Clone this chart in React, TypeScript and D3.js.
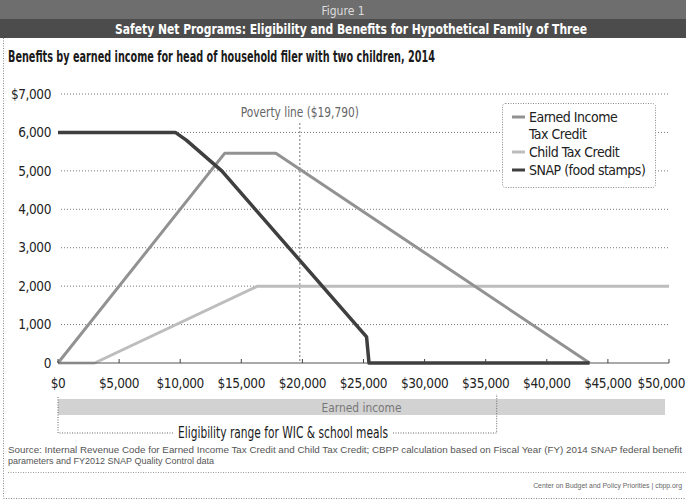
import React from "react";
import * as d3 from "d3";

// ---- data ----
const xTicks = [0, 5000, 10000, 15000, 20000, 25000, 30000, 35000, 40000, 45000, 50000];
const xTickLabels = ["$0", "$5,000", "$10,000", "$15,000", "$20,000", "$25,000", "$30,000", "$35,000", "$40,000", "$45,000", "$50,000"];
const yTicks = [0, 1000, 2000, 3000, 4000, 5000, 6000, 7000];
const yTickLabels = ["0", "1,000", "2,000", "3,000", "4,000", "5,000", "6,000", "$7,000"];

const eitcIncome = [0, 13650, 17830, 43500];
const eitcBenefit = [0, 5460, 5460, 0];

const ctcIncome = [0, 3000, 16330, 50000];
const ctcBenefit = [0, 0, 2000, 2000];

const snapIncome = [0, 9600, 10500, 13400, 25250, 25450, 43500];
const snapBenefit = [6000, 6000, 5800, 5000, 680, 0, 0];

const povertyLine = 19790;
const eligibilityLimit = 35900;

const seriesNames = ["Earned Income", "Tax Credit", "Child Tax Credit", "SNAP (food stamps)"];

const FONT = "'DejaVu Sans Condensed', 'Liberation Sans Narrow', 'Arial Narrow', sans-serif";
const SMALL = "'Liberation Sans', Arial, sans-serif";

const zip = (xs: number[], ys: number[]) => xs.map((x, i) => [x, ys[i]] as [number, number]);

export default function App() {
  const W = 686, H = 502;
  const x = d3.scaleLinear().domain([0, 50000]).range([58, 669]);
  const y = d3.scaleLinear().domain([0, 7000]).range([363, 94]);
  const line = d3.line<[number, number]>().x(d => x(d[0])).y(d => y(d[1]));

  const eitcColor = "#929292";
  const ctcColor = "#bdbdbd";
  const snapColor = "#3f3f3f";
  const tickStyle = { letterSpacing: "-0.4px" };

  return (
    <div style={{ position: "absolute", left: 0, top: 0 }}>
      <svg width={W} height={H} style={{ display: "block", background: "#fff" }}>
        {/* header */}
        <rect x={0} y={0} width={W} height={19} fill="#6e6e6e" />
        <rect x={0} y={19} width={W} height={19} fill="#4c4c4c" />
        <text x={343} y={15} textAnchor="middle" fill="#dcdcdc" fontFamily={FONT} fontSize={12}>Figure 1</text>
        <text x={351} y={34} textAnchor="middle" fill="#fff" fontFamily={FONT} fontSize={14.5} fontWeight="bold"
          textLength={472} lengthAdjust="spacingAndGlyphs">
          Safety Net Programs: Eligibility and Benefits for Hypothetical Family of Three
        </text>

        {/* frame */}
        <line x1={3.5} x2={3.5} y1={38} y2={498} stroke="#888" strokeDasharray="1,1.5" />
        <line x1={3.5} x2={W} y1={498.5} y2={498.5} stroke="#888" strokeDasharray="1,1.5" />

        {/* subtitle */}
        <text x={8} y={62} fill="#1a1a1a" fontFamily={FONT} fontSize={15} fontWeight={600}
          textLength={427} lengthAdjust="spacingAndGlyphs">
          Benefits by earned income for head of household filer with two children, 2014
        </text>

        {/* gridlines */}
        {yTicks.filter(v => v > 0).map(v => (
          <line key={v} x1={x(0) + 3} x2={x(50000)} y1={y(v)} y2={y(v)} stroke="#777" strokeDasharray="1,2" />
        ))}

        {/* y labels */}
        {yTicks.map((v, i) => (
          <text key={v} x={51} y={y(v)} dy="0.35em" textAnchor="end" fill="#222" fontFamily={FONT} fontSize={13.5} style={tickStyle}>
            {yTickLabels[i]}
          </text>
        ))}

        {/* poverty line */}
        <line x1={x(povertyLine)} x2={x(povertyLine)} y1={123} y2={y(0)} stroke="#777" strokeDasharray="2,2" />
        <text x={x(povertyLine)} y={112} dy="0.35em" textAnchor="middle" fill="#666" fontFamily={FONT} fontSize={13.5}
          textLength={118} lengthAdjust="spacingAndGlyphs">
          Poverty line ($19,790)
        </text>

        {/* series */}
        <path d={line(zip(ctcIncome, ctcBenefit)) || ""} fill="none" stroke={ctcColor} strokeWidth={3} strokeLinejoin="round" />
        <path d={line(zip(eitcIncome, eitcBenefit)) || ""} fill="none" stroke={eitcColor} strokeWidth={3} strokeLinejoin="round" />

        {/* x axis */}
        <line x1={x(0)} x2={x(50000)} y1={y(0)} y2={y(0)} stroke="#555" strokeWidth={1.2} />
        {xTicks.map(v => (
          <line key={v} x1={x(v)} x2={x(v)} y1={y(0)} y2={y(0) - 4} stroke="#444" strokeWidth={1} />
        ))}
        <path d={line(zip(snapIncome, snapBenefit)) || ""} fill="none" stroke={snapColor} strokeWidth={3.5} strokeLinejoin="round" />

        {xTicks.map((v, i) => {
          const last = i === xTicks.length - 1;
          return (
            <text key={v} x={last ? W - 1 : x(v)} y={383} dy="0.35em" textAnchor={last ? "end" : "middle"}
              fill="#222" fontFamily={FONT} fontSize={13.5} style={tickStyle}>
              {xTickLabels[i]}
            </text>
          );
        })}

        {/* legend */}
        <rect x={502.5} y={103.5} width={153} height={84} rx={3} fill="#fff" stroke="#888" strokeDasharray="1,1.5" />
        <line x1={512} x2={525} y1={117} y2={117} stroke={eitcColor} strokeWidth={3} />
        <line x1={512} x2={525} y1={152} y2={152} stroke={ctcColor} strokeWidth={3} />
        <line x1={512} x2={525} y1={170} y2={170} stroke={snapColor} strokeWidth={3} />
        {[117, 134, 152, 170].map((yy, i) => (
          <text key={i} x={529} y={yy} dy="0.35em" fill="#222" fontFamily={FONT} fontSize={14} style={{ letterSpacing: "-0.5px" }}>
            {seriesNames[i]}
          </text>
        ))}

        {/* earned income band */}
        <rect x={x(0)} y={399} width={665 - x(0)} height={16} fill="#d2d2d2" />
        <text x={(x(0) + 665) / 2} y={407} dy="0.35em" textAnchor="middle" fill="#777" fontFamily={FONT} fontSize={13}
          textLength={80} lengthAdjust="spacingAndGlyphs">
          Earned income
        </text>

        {/* eligibility bracket */}
        <path d={`M${x(0)},397 V433 H173`} fill="none" stroke="#666" strokeDasharray="1,1.5" />
        <path d={`M393,433 H${x(eligibilityLimit)} V394`} fill="none" stroke="#666" strokeDasharray="1,1.5" />
        <text x={283} y={433} dy="0.35em" textAnchor="middle" fill="#1a1a1a" fontFamily={FONT} fontSize={15} fontWeight={500}
          textLength={210} lengthAdjust="spacingAndGlyphs">
          Eligibility range for WIC &amp; school meals
        </text>

        {/* source */}
        <text x={8} y={453} fill="#555" fontFamily={SMALL} fontSize={9} textLength={674} lengthAdjust="spacingAndGlyphs">
          Source: Internal Revenue Code for Earned Income Tax Credit and Child Tax Credit; CBPP calculation based on Fiscal Year (FY) 2014 SNAP federal benefit
        </text>
        <text x={8} y={464} fill="#555" fontFamily={SMALL} fontSize={9}>
          parameters and FY2012 SNAP Quality Control data
        </text>
        <line x1={8} x2={W} y1={472.5} y2={472.5} stroke="#999" strokeDasharray="1,1.5" />
        <text x={682} y={488} textAnchor="end" fill="#666" fontFamily={SMALL} fontSize={6.9}>
          Center on Budget and Policy Priorities | cbpp.org
        </text>
      </svg>
    </div>
  );
}
